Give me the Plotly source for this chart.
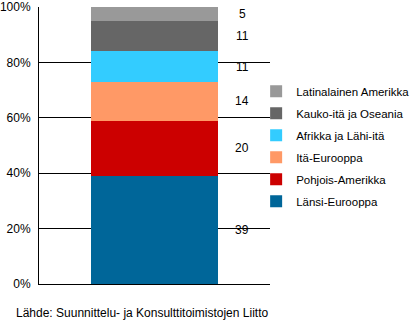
import plotly.graph_objects as go

regions = ["Länsi-Eurooppa", "Pohjois-Amerikka", "Itä-Eurooppa",
           "Afrikka ja Lähi-itä", "Kauko-itä ja Oseania", "Latinalainen Amerikka"]
values = [39, 20, 14, 11, 11, 5]
colors = ["#006699", "#CC0000", "#FF9966", "#33CCFF", "#666666", "#999999"]
y_ticks = [0, 20, 40, 60, 80, 100]
y_tick_labels = ["0%", "20%", "40%", "60%", "80%", "100%"]
source = "Lähde: Suunnittelu- ja Konsulttitoimistojen Liitto"

FONT = "Liberation Sans, Arial, sans-serif"

fig = go.Figure()
n = len(regions)
for i, (name, v, c) in enumerate(zip(regions, values, colors)):
    fig.add_trace(go.Bar(x=[0], y=[v], name=name, marker=dict(color=c, line=dict(width=0)),
                         width=0.554, hoverinfo="name+y", legendgroup=f"g{i}",
                         legendrank=1000 + (n - i)))

cum = 0
for v in values:
    fig.add_annotation(x=0.38, y=cum + v / 2, text=str(v), showarrow=False,
                       xref="x", yref="y", xanchor="center", yanchor="middle",
                       font=dict(family=FONT, size=12, color="black"))
    cum += v

fig.add_annotation(xref="paper", yref="paper", x=(14 - 39) / 231, y=(284 - 313) / 277,
                   xanchor="left", yanchor="middle", text=source, showarrow=False,
                   font=dict(family=FONT, size=12, color="black"))

fig.update_layout(
    barmode="stack",
    width=413, height=324,
    margin=dict(l=39, r=143, t=7, b=40, autoexpand=False),
    paper_bgcolor="white", plot_bgcolor="white",
    font=dict(family=FONT, size=12, color="black"),
    bargap=0,
    xaxis=dict(range=[-0.5, 0.5], showticklabels=False, showgrid=False, zeroline=False,
               showline=True, linecolor="black", linewidth=1, ticks="", fixedrange=True),
    yaxis=dict(range=[0, 100], tickvals=y_ticks, ticktext=y_tick_labels,
               showgrid=True, gridcolor="black", gridwidth=1, zeroline=False,
               showline=True, linecolor="black", linewidth=1, ticks="",
               ticklabelstandoff=5, tickfont=dict(family=FONT, size=12, color="black")),
    legend=dict(traceorder="grouped", x=0.94, xanchor="left", y=0.748, yanchor="top",
                font=dict(family=FONT, size=11.5, color="black"), bgcolor="rgba(0,0,0,0)",
                itemwidth=30, tracegroupgap=3),
    showlegend=True,
)

fig.write_html("out.html")
